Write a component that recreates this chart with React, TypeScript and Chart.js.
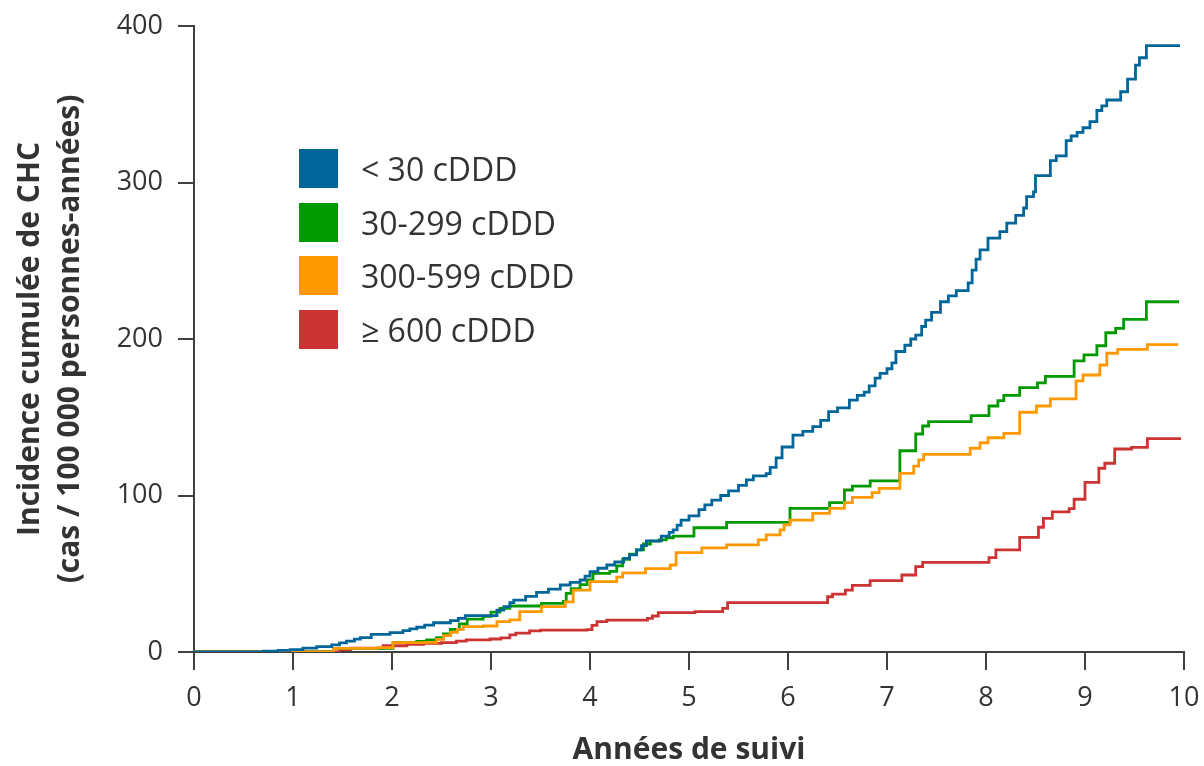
import React, { useEffect, useRef } from "react";
import { Chart, registerables } from "chart.js";

Chart.register(...registerables);

const seriesLabels = ["< 30 cDDD", "30-299 cDDD", "300-599 cDDD", "≥ 600 cDDD"];
const seriesColors = ["#006699", "#009900", "#FF9900", "#CC3333"];

const xTickValues = [0, 1, 2, 3, 4, 5, 6, 7, 8, 9, 10];
const yTickValues = [0, 100, 200, 300, 400];

const xTitle = "Années de suivi";
const yTitle = ["Incidence cumulée de CHC", "(cas / 100 000 personnes-années)"];

// < 30 cDDD
const blueYears = [0, 0.70, 0.85, 0.97, 1.10, 1.24, 1.39, 1.47, 1.54, 1.62, 1.68, 1.79, 1.98, 2.11, 2.18, 2.25, 2.33, 2.42, 2.59, 2.67, 2.74, 3.06, 3.13, 3.19, 3.23, 3.35, 3.46, 3.58, 3.70, 3.80, 3.90, 3.95, 4.00, 4.08, 4.17, 4.25, 4.34, 4.40, 4.47, 4.52, 4.57, 4.72, 4.80, 4.84, 4.88, 4.92, 5.00, 5.10, 5.16, 5.23, 5.32, 5.40, 5.50, 5.58, 5.65, 5.78, 5.82, 5.88, 5.94, 6.05, 6.15, 6.25, 6.33, 6.41, 6.50, 6.62, 6.70, 6.77, 6.82, 6.88, 6.93, 7.00, 7.05, 7.09, 7.18, 7.24, 7.29, 7.35, 7.39, 7.45, 7.54, 7.62, 7.70, 7.82, 7.86, 7.90, 7.94, 8.02, 8.14, 8.21, 8.30, 8.38, 8.41, 8.48, 8.50, 8.65, 8.71, 8.81, 8.86, 8.92, 8.98, 9.05, 9.12, 9.17, 9.22, 9.36, 9.43, 9.51, 9.55, 9.62, 9.96];
const blueValues = [0, 0.5, 1.0, 1.5, 2.5, 3.4, 4.5, 5.8, 7, 8.2, 9.2, 11.3, 12.4, 13.6, 14.8, 15.8, 17.2, 18.7, 20, 21.5, 23.3, 26.8, 29, 31.5, 33.2, 35.5, 38.1, 40.2, 42.8, 44.5, 46, 48.5, 51.3, 53.5, 55.6, 57.5, 59.8, 62, 65.2, 68, 71, 74, 76.5, 78, 81, 84.3, 87, 91, 94, 97, 100, 103, 106.5, 110, 112.5, 114, 118, 124, 131, 138.6, 141, 144, 148, 153.6, 156, 161, 164, 166, 170, 175, 178, 181, 184.7, 192, 196, 200, 202.5, 208, 212, 217, 223.8, 227.5, 230.9, 235.8, 244, 251, 256.9, 264.5, 268.6, 274, 279, 283.7, 291, 294, 304.4, 314, 317, 326.7, 329.7, 332, 335, 338.9, 346, 349, 352.7, 358, 366, 375, 379.7, 387.4, 387.4];

// 30-299 cDDD
const greenYears = [0, 1.41, 2.01, 2.25, 2.35, 2.45, 2.52, 2.59, 2.68, 2.76, 2.92, 3.00, 3.09, 3.19, 3.51, 3.73, 3.76, 3.81, 3.90, 3.97, 4.03, 4.20, 4.27, 4.33, 4.40, 4.47, 4.54, 4.61, 4.70, 4.77, 4.84, 5.05, 5.38, 6.02, 6.42, 6.57, 6.65, 6.83, 7.13, 7.29, 7.36, 7.42, 7.85, 8.03, 8.12, 8.18, 8.34, 8.52, 8.60, 8.89, 8.99, 9.12, 9.21, 9.31, 9.39, 9.62, 9.95];
const greenValues = [0, 2.3, 6, 6.8, 7.8, 9.2, 11.5, 14.5, 18, 21, 22.8, 25.5, 27.9, 29.4, 31.1, 32.4, 37.5, 40.5, 43, 46, 50.3, 51.5, 55, 59.2, 62.5, 65.2, 69, 70.8, 71.6, 73, 74, 79.4, 82.8, 91.8, 95.4, 103.5, 106, 109.3, 128.6, 139.3, 144.4, 147.2, 151, 157.2, 160.6, 164, 168.9, 172, 176.1, 186, 189.8, 195.7, 204, 206.8, 212.6, 223.8, 223.8];

// 300-599 cDDD
const orangeYears = [0, 1.41, 1.85, 2.01, 2.32, 2.45, 2.52, 2.59, 2.66, 2.72, 2.92, 3.06, 3.19, 3.29, 3.51, 3.75, 3.83, 4.00, 4.27, 4.33, 4.56, 4.81, 4.87, 5.13, 5.38, 5.70, 5.78, 5.92, 5.96, 6.02, 6.25, 6.42, 6.57, 6.65, 6.85, 6.92, 7.13, 7.27, 7.32, 7.37, 7.84, 7.94, 8.02, 8.18, 8.34, 8.51, 8.65, 8.91, 8.98, 9.15, 9.22, 9.33, 9.63, 9.94];
const orangeValues = [0, 2.3, 2.8, 6, 6.2, 8.1, 10.5, 12.5, 14.5, 16.2, 16.6, 19.4, 20.5, 25.8, 29, 32, 39.6, 45, 47.9, 50.5, 53.3, 55.6, 63.5, 66.5, 68.4, 71.6, 74.8, 78, 81.2, 84.3, 88.6, 91.8, 95.4, 98.8, 101.8, 104.6, 114.2, 118.8, 122.7, 126.3, 130.2, 133.7, 136.9, 139.7, 153.2, 157.2, 161.7, 173.2, 177, 183.4, 190.9, 193.4, 196.4, 196.4];

// >= 600 cDDD
const redYears = [0, 1.47, 1.58, 1.91, 2.15, 2.32, 2.50, 2.65, 2.75, 2.99, 3.10, 3.19, 3.25, 3.39, 3.50, 3.97, 4.02, 4.07, 4.17, 4.58, 4.63, 4.69, 5.06, 5.34, 5.39, 6.40, 6.45, 6.58, 6.65, 6.83, 7.15, 7.29, 7.36, 8.03, 8.10, 8.34, 8.53, 8.58, 8.67, 8.84, 8.89, 9.00, 9.14, 9.20, 9.30, 9.47, 9.63, 9.97];
const redValues = [0, 1.5, 2.5, 4, 4.9, 5.5, 6, 7, 7.7, 8.3, 9, 11, 12, 13.5, 14, 14.3, 17, 19.4, 20.4, 21.5, 23, 25.1, 25.8, 27.9, 31.5, 35.3, 37, 39.6, 42.6, 45.6, 49.2, 54.5, 57.3, 60.3, 65.2, 73.3, 79.7, 85.4, 89.5, 91.6, 97.6, 108.4, 117.4, 120.6, 129.7, 130.8, 136.3, 136.3];

const seriesYears = [blueYears, greenYears, orangeYears, redYears];
const seriesValues = [blueValues, greenValues, orangeValues, redValues];
const drawOrder = [0, 2, 1, 3];

const AXIS_COLOR = "#404040";
const TEXT_COLOR = "#333333";

export default function App() {
  const canvasRef = useRef<HTMLCanvasElement | null>(null);

  useEffect(() => {
    const canvas = canvasRef.current;
    if (!canvas) return;
    const datasets = seriesLabels.map((label, i) => ({
      label,
      data: seriesYears[i].map((x, j) => ({ x, y: seriesValues[i][j] })),
      borderColor: seriesColors[i],
      backgroundColor: seriesColors[i],
      borderWidth: 2.8,
      pointRadius: 0,
      stepped: "before" as const,
      fill: false,
      order: drawOrder[i],
    }));
    const chart = new Chart(canvas, {
      type: "line",
      data: { datasets },
      options: {
        animation: false,
        responsive: false,
        maintainAspectRatio: false,
        layout: { padding: { left: 0, top: 26, right: 20, bottom: 0 } },
        plugins: {
          legend: { display: false },
          tooltip: { enabled: false },
          title: { display: false },
        },
        scales: {
          x: {
            type: "linear",
            min: 0,
            max: 10,
            afterBuildTicks: (s: any) => {
              s.ticks = xTickValues.map((v) => ({ value: v }));
            },
            afterFit: (s: any) => {
              s.height = 114;
              s.paddingLeft = 0;
              s.paddingRight = 0;
            },
            grid: {
              drawOnChartArea: false,
              drawTicks: true,
              tickLength: 18,
              color: AXIS_COLOR,
              lineWidth: 2,
            },
            border: { display: true, color: AXIS_COLOR, width: 2 },
            ticks: {
              color: TEXT_COLOR,
              padding: 12,
              maxRotation: 0,
              autoSkip: false,
              font: { family: "'Open Sans', sans-serif", size: 27, lineHeight: 1.2 },
            },
            title: {
              display: true,
              text: xTitle,
              color: TEXT_COLOR,
              padding: { top: 0, bottom: 1 },
              font: { family: "'Open Sans', sans-serif", size: 30, weight: "bold", lineHeight: 1.0 },
            },
          },
          y: {
            type: "linear",
            min: 0,
            max: 400,
            afterBuildTicks: (s: any) => {
              s.ticks = yTickValues.map((v) => ({ value: v }));
            },
            afterFit: (s: any) => {
              s.width = 194;
              s.paddingTop = 0;
              s.paddingBottom = 0;
            },
            grid: {
              drawOnChartArea: false,
              drawTicks: true,
              tickLength: 16,
              color: AXIS_COLOR,
              lineWidth: 2,
            },
            border: { display: true, color: AXIS_COLOR, width: 2 },
            ticks: {
              color: TEXT_COLOR,
              padding: 15,
              autoSkip: false,
              font: { family: "'Open Sans', sans-serif", size: 27, lineHeight: 1.2 },
            },
            title: {
              display: true,
              text: yTitle,
              color: TEXT_COLOR,
              padding: { top: 10, bottom: 0 },
              font: { family: "'Open Sans', sans-serif", size: 30, weight: "bold", lineHeight: 40 / 30 },
            },
          },
        },
      },
    });
    return () => chart.destroy();
  }, []);

  return (
    <div style={{ position: "fixed", left: 0, top: 0, width: 1204, height: 766, background: "#ffffff" }}>
      <canvas ref={canvasRef} width={1204} height={766} style={{ display: "block", width: 1204, height: 766 }} />
      {seriesLabels.map((label, i) => (
        <div
          key={label}
          style={{
            position: "absolute",
            left: 299,
            top: 149 + i * 53.7,
            height: 39,
            display: "flex",
            alignItems: "center",
            whiteSpace: "nowrap",
          }}
        >
          <div style={{ width: 39, height: 39, background: seriesColors[i] }} />
          <span
            style={{
              marginLeft: 23,
              fontFamily: "'Open Sans', sans-serif",
              fontSize: 32,
              color: TEXT_COLOR,
              lineHeight: "39px",
            }}
          >
            {label}
          </span>
        </div>
      ))}
    </div>
  );
}
